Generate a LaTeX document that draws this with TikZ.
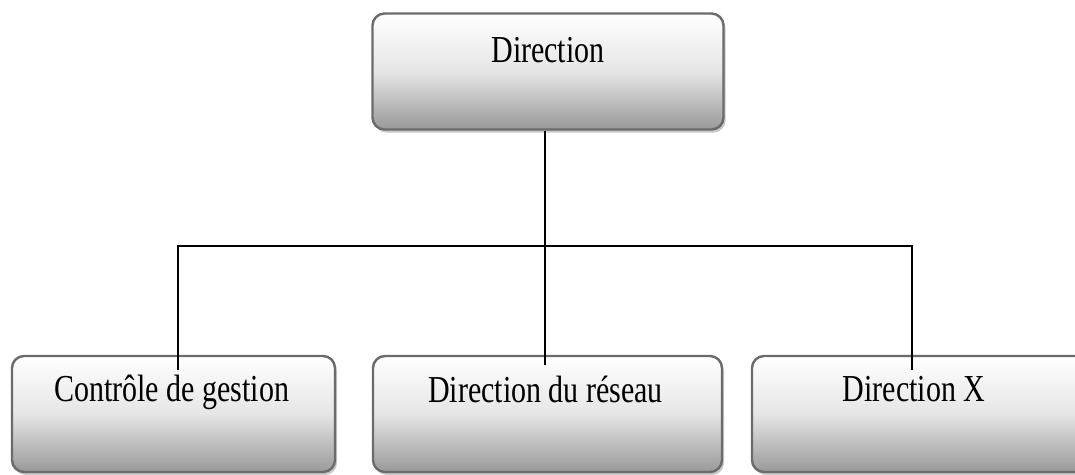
\documentclass[tikz,border=0pt]{standalone}
\usepackage{fontspec}
\setmainfont{Liberation Serif}
\usetikzlibrary{shadows}
\tikzset{
  unit/.style={rectangle, rounded corners=12pt, draw=black!58, line width=2.4pt,
    top color=white, bottom color=black!40, middle color=black!10,
    minimum height=116pt, inner sep=0pt,
    drop shadow={shadow xshift=2pt, shadow yshift=-3pt, fill=black!22, opacity=1}},
  lbl/.style={anchor=base, inner sep=0pt, font=\fontsize{30}{30}\selectfont},
  link/.style={draw=black, line width=2.6pt}
}
\newcommand{\tall}[1]{\scalebox{1}[1.27]{#1}}
\begin{document}
\begin{tikzpicture}[x=1pt,y=-1pt]
\useasboundingbox (0,0) rectangle (1075,474);
\clip (0,0) rectangle (1075,474);
% organisation boxes
\node[unit, minimum width=351pt] (dir) at (548,71.5) {};
\node[unit, minimum width=323pt] (cg)  at (173.5,414) {};
\node[unit, minimum width=349pt] (dr)  at (547.5,414) {};
\node[unit, minimum width=340pt] (dx)  at (922,414) {};
% box titles
\node[lbl] at ([yshift=-50pt]dir.north) {\tall{Direction}};
\node[lbl] at ([xshift=-2pt,yshift=-47pt]cg.north) {\tall{Contrôle de gestion}};
\node[lbl] at ([xshift=-2pt,yshift=-48pt]dr.north) {\tall{Direction du réseau}};
\node[lbl] at ([xshift=-8pt,yshift=-47pt]dx.north) {\tall{Direction X}};
% branch points
\coordinate (bus) at (545,246);
\coordinate (busL) at (178,246);
\coordinate (busR) at (912,246);
\coordinate (endL) at (178,370);
\coordinate (endM) at (545,365);
\coordinate (endR) at (912,370);
% connectors
\draw[link] (dir.south -| bus) -- (endM);
\draw[link] (endL) -- (busL) -- (busR) -- (endR);
\end{tikzpicture}
\end{document}
